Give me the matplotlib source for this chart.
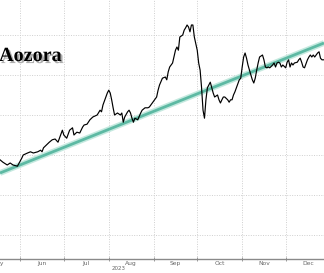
import pandas as pd
import matplotlib
matplotlib.use("Agg")
import matplotlib.pyplot as plt
import matplotlib.patheffects as pe

# Price series (y units are arbitrary)
dates = [
    "2023-05-18", "2023-05-20", "2023-05-23", "2023-05-25", "2023-05-27", "2023-05-30",
    "2023-06-02", "2023-06-03", "2023-06-06", "2023-06-08", "2023-06-10", "2023-06-13",
    "2023-06-15", "2023-06-16", "2023-06-17", "2023-06-19", "2023-06-21", "2023-06-23",
    "2023-06-25", "2023-06-27", "2023-06-30",
    "2023-07-01", "2023-07-03", "2023-07-05", "2023-07-07", "2023-07-08", "2023-07-10",
    "2023-07-12", "2023-07-14", "2023-07-15", "2023-07-17", "2023-07-19", "2023-07-21",
    "2023-07-24", "2023-07-26", "2023-07-27", "2023-07-28", "2023-07-31",
    "2023-08-01", "2023-08-02", "2023-08-03", "2023-08-04", "2023-08-05", "2023-08-07",
    "2023-08-09", "2023-08-10", "2023-08-11", "2023-08-12", "2023-08-14", "2023-08-15",
    "2023-08-16", "2023-08-17", "2023-08-18", "2023-08-19", "2023-08-20", "2023-08-21",
    "2023-08-23", "2023-08-24", "2023-08-26", "2023-08-28", "2023-08-29", "2023-08-31",
    "2023-09-03", "2023-09-04", "2023-09-05", "2023-09-07", "2023-09-09", "2023-09-10",
    "2023-09-11", "2023-09-12", "2023-09-14", "2023-09-16", "2023-09-17", "2023-09-18",
    "2023-09-19", "2023-09-21", "2023-09-22", "2023-09-23", "2023-09-24", "2023-09-25",
    "2023-09-26", "2023-09-27", "2023-09-28", "2023-09-29",
    "2023-10-01", "2023-10-02", "2023-10-03", "2023-10-04", "2023-10-05", "2023-10-06",
    "2023-10-07", "2023-10-08", "2023-10-10", "2023-10-11", "2023-10-12", "2023-10-13",
    "2023-10-15", "2023-10-16", "2023-10-17", "2023-10-18", "2023-10-19", "2023-10-20",
    "2023-10-22", "2023-10-23", "2023-10-24", "2023-10-25", "2023-10-26", "2023-10-27",
    "2023-10-28", "2023-10-30", "2023-10-31",
    "2023-11-01", "2023-11-02", "2023-11-03", "2023-11-04", "2023-11-05", "2023-11-06",
    "2023-11-07", "2023-11-08", "2023-11-09", "2023-11-10", "2023-11-11", "2023-11-12",
    "2023-11-13", "2023-11-15", "2023-11-16", "2023-11-17", "2023-11-18", "2023-11-19",
    "2023-11-20", "2023-11-22", "2023-11-23", "2023-11-24", "2023-11-25", "2023-11-26",
    "2023-11-27", "2023-11-28", "2023-11-29",
    "2023-12-01", "2023-12-02", "2023-12-03", "2023-12-04", "2023-12-05", "2023-12-06",
    "2023-12-07", "2023-12-09", "2023-12-10", "2023-12-11", "2023-12-12", "2023-12-13",
    "2023-12-14", "2023-12-16", "2023-12-17", "2023-12-18", "2023-12-19", "2023-12-20",
    "2023-12-21", "2023-12-23", "2023-12-24", "2023-12-25", "2023-12-26", "2023-12-27",
]
prices = [
    2488, 2482, 2475, 2480, 2475, 2472,
    2492, 2500, 2505, 2508, 2505, 2508,
    2512, 2508, 2518, 2525, 2532, 2538,
    2540, 2532, 2562,
    2550, 2542, 2562, 2568, 2550, 2557,
    2555, 2570, 2575, 2577, 2588, 2595,
    2600, 2612, 2608, 2625, 2655,
    2662, 2655, 2638, 2618, 2600, 2605,
    2600, 2605, 2582, 2595, 2608, 2612,
    2605, 2592, 2582, 2592, 2590, 2588,
    2605, 2612, 2618, 2618, 2620, 2630,
    2645, 2662, 2675, 2692, 2695, 2688,
    2708, 2720, 2730, 2762, 2770, 2762,
    2795, 2800, 2812, 2818, 2825, 2820,
    2808, 2825, 2825, 2795,
    2762, 2730, 2712, 2668, 2612, 2592,
    2638, 2668, 2682, 2668, 2655, 2645,
    2650, 2638, 2630, 2638, 2645, 2645,
    2638, 2632, 2638, 2638, 2650, 2658,
    2668, 2688, 2692,
    2720, 2745, 2755, 2742, 2725, 2712,
    2700, 2688, 2680, 2692, 2712, 2730,
    2745, 2750, 2738, 2720, 2718, 2720,
    2718, 2725, 2730, 2720, 2730, 2732,
    2730, 2720, 2725,
    2718, 2732, 2738, 2720, 2730, 2725,
    2730, 2732, 2738, 2742, 2732, 2720,
    2718, 2738, 2745, 2750, 2745, 2750,
    2745, 2755, 2758, 2742, 2738, 2738,
]

# Trend line end points
trend_dates = ["2023-05-18 00:00", "2023-12-27 10:00"]
trend_values = [2455, 2780]

month_labels = ["May", "Jun", "Jul", "Aug", "Sep", "Oct", "Nov", "Dec"]
month_starts = ["2023-05-01", "2023-06-01", "2023-07-01", "2023-08-01",
                "2023-09-01", "2023-10-01", "2023-11-01", "2023-12-01", "2024-01-01"]
title_text = "Aozora"

dates = pd.to_datetime(dates)
trend_dates = pd.to_datetime(trend_dates, format="%Y-%m-%d %H:%M")
month_starts = pd.to_datetime(month_starts)

fig = plt.figure(figsize=(3.24, 2.73), dpi=100)
ax = fig.add_axes([0, 14 / 273, 1, 259 / 273])

# grid
for y in range(2300, 2900, 100):
    ax.axhline(y, color="#cfcfcf", lw=0.7, ls=(0, (1, 1.5)), zorder=0)
for m in month_starts[1:-1]:
    ax.axvline(m, color="#cfcfcf", lw=0.7, ls=(0, (1, 1.5)), zorder=0)

# trend line with soft halo
ax.plot(trend_dates, trend_values, color="#c4e9df", lw=4.2, solid_capstyle="butt", zorder=2)
ax.plot(trend_dates, trend_values, color="#5db9a3", lw=2.0, solid_capstyle="butt", zorder=3)

ax.plot(dates, prices, color="black", lw=0.85, zorder=4)

ax.set_xlim(trend_dates[0], trend_dates[1])
ax.set_ylim(2240, 2887.5)

for s in ["top", "right", "left"]:
    ax.spines[s].set_visible(False)
ax.spines["bottom"].set_color("#8a8a8a")
ax.spines["bottom"].set_linewidth(1.0)
ax.set_yticks([])

ax.set_xticks(month_starts[1:-1])
ax.set_xticklabels([])
ax.tick_params(axis="x", direction="inout", length=3, width=0.6, color="#8a8a8a")

# month labels in the middle of each month
for i, lab in enumerate(month_labels):
    mid = month_starts[i] + (month_starts[i + 1] - month_starts[i]) / 2
    ax.text(mid, -0.019, lab, transform=ax.get_xaxis_transform(), ha="center", va="center",
            fontsize=4.3, color="#666666", clip_on=False)
ax.text(pd.Timestamp("2023-08-08"), -0.036, "2023", transform=ax.get_xaxis_transform(),
        ha="center", va="center", fontsize=4.0, color="#666666", clip_on=False)

# title fragment with drop shadow
fig.text(-0.003, 1 - 61 / 273, title_text, fontsize=14.5, fontweight="bold",
         family="Liberation Serif", color="black", ha="left", va="baseline",
         path_effects=[pe.withSimplePatchShadow(offset=(1.5, -1.5), shadow_rgbFace="#777777", alpha=0.6)])

fig.savefig("out.png", dpi=100)
